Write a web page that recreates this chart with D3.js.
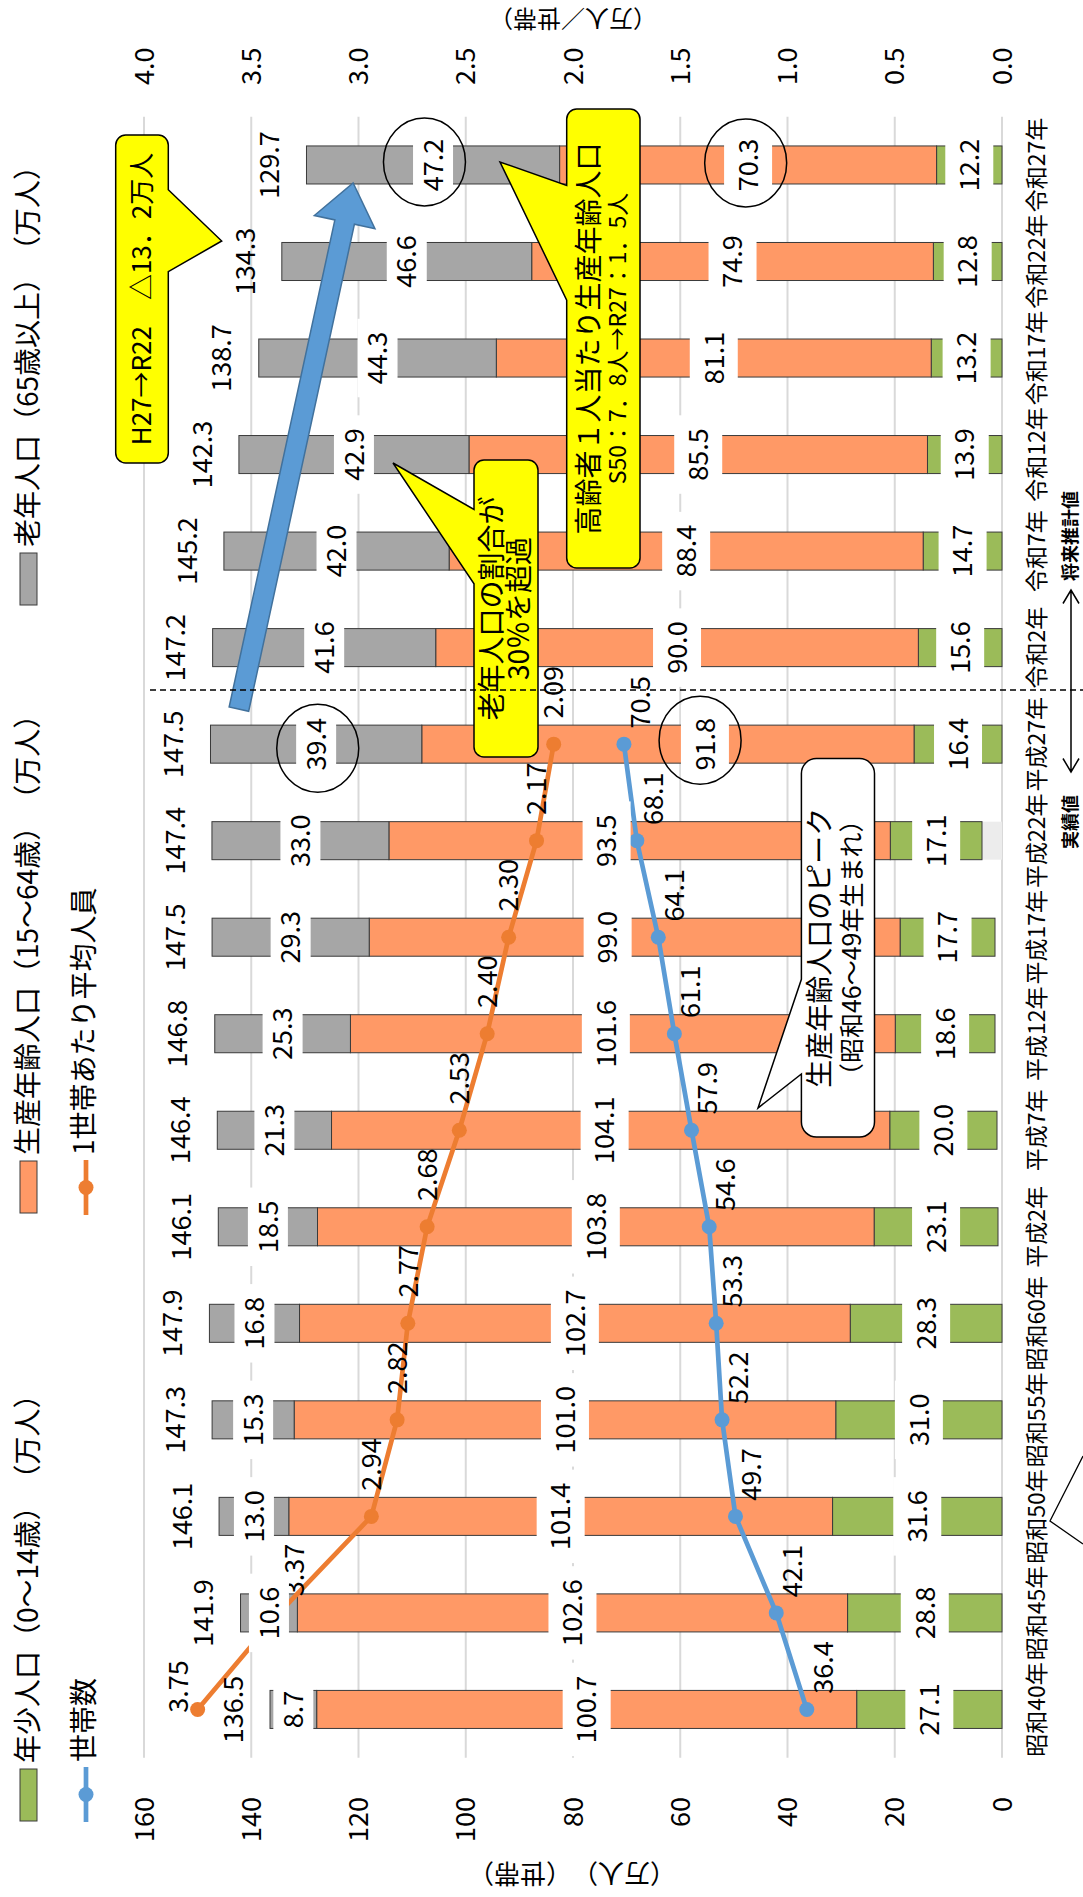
<!DOCTYPE html>
<html>
<head>
<meta charset="utf-8">
<script src="https://cdn.jsdelivr.net/npm/d3@7"></script>
<style>
body { margin: 0; background: #fff; }
svg { display: block; font-family: "Noto Sans CJK JP", "Noto Sans", sans-serif; }
</style>
</head>
<body>
<svg id="chart" width="1083" height="1897"></svg>
<script>
// data
var categories = ["昭和40年","昭和45年","昭和50年","昭和55年","昭和60年","平成2年","平成7年","平成12年","平成17年","平成22年","平成27年","令和2年","令和7年","令和12年","令和17年","令和22年","令和27年"];
var young   = [27.1,28.8,31.6,31.0,28.3,23.1,20.0,18.6,17.7,17.1,16.4,15.6,14.7,13.9,13.2,12.8,12.2];
var working = [100.7,102.6,101.4,101.0,102.7,103.8,104.1,101.6,99.0,93.5,91.8,90.0,88.4,85.5,81.1,74.9,70.3];
var elderly = [8.7,10.6,13.0,15.3,16.8,18.5,21.3,25.3,29.3,33.0,39.4,41.6,42.0,42.9,44.3,46.6,47.2];
var totals  = [136.5,141.9,146.1,147.3,147.9,146.1,146.4,146.8,147.5,147.4,147.5,147.2,145.2,142.3,138.7,134.3,129.7];
var households   = [36.4,42.1,49.7,52.2,53.3,54.6,57.9,61.1,64.1,68.1,70.5];
var perHousehold = [3.75,3.37,2.94,2.82,2.77,2.68,2.53,2.40,2.30,2.17,2.09];
var leftTicks  = [0,20,40,60,80,100,120,140,160];
var rightTicks = [0,0.5,1.0,1.5,2.0,2.5,3.0,3.5,4.0];

// the chart is drawn landscape and turned a quarter to the left
var W = 1897, H = 1083;
var colors = { young: "#9bbb59", working: "#ff9966", elderly: "#a6a6a6" };
// some bars in the source sit a few px off the axis
var barShift = { "平成2年": -4, "平成7年": -5, "平成12年": -7, "平成17年": -7, "平成22年": -20 };
// hand-moved labels of the working-age series (px)
var workNudge = { "平成7年": -6, "平成12年": -17, "平成17年": -27, "平成22年": -33, "平成27年": 37 };

var svg = d3.select("#chart");
var g = svg.append("g").attr("transform", "translate(0," + W + ") rotate(-90)");

var x = d3.scaleBand().domain(categories).range([139.3, 1780.3]).paddingInner(0.606).paddingOuter(0.303);
var y = d3.scaleLinear().domain([0, 160]).range([1002, 144]);
var y2 = d3.scaleLinear().domain([0, 4]).range([1002, 144]);
function cx(c) { return x(c) + x.bandwidth() / 2; }
var f1 = d3.format(".1f"), f2 = d3.format(".2f");

// gridlines
g.selectAll(".grid").data(leftTicks).join("line")
  .attr("x1", 139.3).attr("x2", 1780.3)
  .attr("y1", d => y(d)).attr("y2", d => y(d))
  .attr("stroke", "#d9d9d9").attr("stroke-width", 2);

// stacked bars
var rows = categories.map((c, i) => ({ cat: c, young: young[i], working: working[i], elderly: elderly[i], total: totals[i] }));
var stacked = d3.stack().keys(["young", "working", "elderly"])(rows);
rows.forEach((r, i) => { r.segs = stacked.map(l => ({ key: l.key, v0: l[i][0], v1: l[i][1], val: r[l.key] })); });

rows.forEach(r => {
  var s = barShift[r.cat] || 0;
  if (s < -10) {
    g.append("rect").attr("x", x(r.cat)).attr("width", x.bandwidth())
      .attr("y", y(0) + s).attr("height", -s).attr("fill", "#ececec");
  }
  var bg = g.append("g").attr("transform", "translate(0," + s + ")");
  bg.selectAll("rect").data(r.segs).join("rect")
    .attr("x", x(r.cat)).attr("width", x.bandwidth())
    .attr("y", d => y(d.v1)).attr("height", d => y(d.v0) - y(d.v1))
    .attr("fill", d => colors[d.key]).attr("stroke", "#3a3a3a").attr("stroke-width", 1);
});

// lines
var hhLine = d3.line().x((d, i) => cx(categories[i])).y(d => y(d));
var phLine = d3.line().x((d, i) => cx(categories[i])).y(d => y2(d));
g.append("path").attr("d", phLine(perHousehold)).attr("fill", "none").attr("stroke", "#ed7d31").attr("stroke-width", 4.7);
g.append("path").attr("d", hhLine(households)).attr("fill", "none").attr("stroke", "#5b9bd5").attr("stroke-width", 4.7);
g.selectAll(".phDot").data(perHousehold).join("circle")
  .attr("cx", (d, i) => cx(categories[i])).attr("cy", d => y2(d)).attr("r", 7.5).attr("fill", "#ed7d31");
g.selectAll(".hhDot").data(households).join("circle")
  .attr("cx", (d, i) => cx(categories[i])).attr("cy", d => y(d)).attr("r", 7.5).attr("fill", "#5b9bd5");

// line labels
var phNudge = { 0: [23, -19], 1: [43, 15] };
g.selectAll(".phLab").data(perHousehold).join("text")
  .attr("x", (d, i) => cx(categories[i]) + (phNudge[i] ? phNudge[i][0] : 52))
  .attr("y", (d, i) => y2(d) + (phNudge[i] ? phNudge[i][1] : 0))
  .attr("dy", "0.36em").attr("text-anchor", "middle").attr("font-size", 27)
  .text(d => f2(d));
g.selectAll(".hhLab").data(households).join("text")
  .attr("x", (d, i) => cx(categories[i]) + 42)
  .attr("y", d => y(d) + 16)
  .attr("dy", "0.36em").attr("text-anchor", "middle").attr("font-size", 27)
  .text(d => f1(d));

// segment labels with white boxes, and totals
var boxH = { young: 48, working: 48, elderly: 40 };
rows.forEach(r => {
  var s = barShift[r.cat] || 0;
  var lg = g.append("g").attr("transform", "translate(0," + s + ")");
  r.segs.forEach(sg => {
    var ny = sg.key === "working" ? (workNudge[r.cat] || 0) : 0;
    var t = lg.append("g").attr("transform", "translate(" + cx(r.cat) + "," + ((y(sg.v0) + y(sg.v1)) / 2 + ny) + ")");
    var box = t.append("rect").attr("fill", "#fff");
    var txt = t.append("text").attr("text-anchor", "middle").attr("dy", "0.36em")
      .attr("font-size", 27).text(f1(sg.val));
    var w = txt.node().getComputedTextLength() + 26;
    box.attr("x", -w / 2).attr("width", w).attr("y", -boxH[sg.key] / 2).attr("height", boxH[sg.key]);
  });
  lg.append("text").attr("x", cx(r.cat)).attr("y", y(r.segs[2].v1) - 37)
    .attr("dy", "0.36em").attr("text-anchor", "middle").attr("font-size", 27)
    .text(f1(r.total));
});

// circles round some labels
var rings = [
  { cat: "令和27年", v: 107.7, dx: 3 },
  { cat: "令和27年", v: 47.8, dx: 2 },
  { cat: "平成27年", v: 127.6, dx: -4 },
  { cat: "平成27年", v: 56.3, dx: 4 }
];
g.selectAll(".ring").data(rings).join("ellipse")
  .attr("cx", d => cx(d.cat) + d.dx).attr("cy", d => y(d.v))
  .attr("rx", 44).attr("ry", 41)
  .attr("fill", "none").attr("stroke", "#000").attr("stroke-width", 1.5);

// blue block arrow
function blockArrow(t, p, sw, hl, hw) {
  var dx = p[0] - t[0], dy = p[1] - t[1], len = Math.hypot(dx, dy);
  var ux = dx / len, uy = dy / len, nx = -uy, ny = ux;
  var bx = p[0] - ux * hl, by = p[1] - uy * hl;
  var pts = [
    [t[0] + nx * sw, t[1] + ny * sw], [bx + nx * sw, by + ny * sw], [bx + nx * hw, by + ny * hw],
    p, [bx - nx * hw, by - ny * hw], [bx - nx * sw, by - ny * sw], [t[0] - nx * sw, t[1] - ny * sw]
  ];
  return "M" + pts.map(q => q.join(",")).join("L") + "Z";
}
g.append("path")
  .attr("d", blockArrow([cx("平成27年") + 35, y(142.3)], [cx("令和27年") - 18, y(121)], 10, 40, 31))
  .attr("fill", "#5b9bd5").attr("stroke", "#41719c").attr("stroke-width", 1.5);

// callouts
function callout(b, side, a0, a1, tip, r) {
  var p = "M" + (b.x0 + r) + "," + b.y0;
  if (side === "top") p += "L" + a0 + "," + b.y0 + "L" + tip[0] + "," + tip[1] + "L" + a1 + "," + b.y0;
  p += "L" + (b.x1 - r) + "," + b.y0 + "A" + r + "," + r + " 0 0 1 " + b.x1 + "," + (b.y0 + r);
  p += "L" + b.x1 + "," + (b.y1 - r) + "A" + r + "," + r + " 0 0 1 " + (b.x1 - r) + "," + b.y1;
  if (side === "bottom") p += "L" + a1 + "," + b.y1 + "L" + tip[0] + "," + tip[1] + "L" + a0 + "," + b.y1;
  p += "L" + (b.x0 + r) + "," + b.y1 + "A" + r + "," + r + " 0 0 1 " + b.x0 + "," + (b.y1 - r);
  p += "L" + b.x0 + "," + (b.y0 + r) + "A" + r + "," + r + " 0 0 1 " + (b.x0 + r) + "," + b.y0 + "Z";
  return p;
}
function wedgeBase(b, tipX) {
  var L = b.x1 - b.x0, mid = (b.x0 + b.x1) / 2;
  return tipX > mid ? [b.x0 + L * 7 / 12, b.x0 + L * 10 / 12] : [b.x0 + L * 2 / 12, b.x0 + L * 5 / 12];
}
var notes = [
  { box: { x0: 1434, y0: 115.7, x1: 1762, y1: 168.3 }, side: "bottom", tip: [1656, 221.7], fill: "#ffff00", r: 10,
    lines: [{ t: "H27→R22　△13．2万人", s: 26, dy: 0 }] },
  { box: { x0: 1140, y0: 474, x1: 1437, y1: 538 }, side: "top", tip: [1434, 393], fill: "#ffff00", r: 10,
    lines: [{ t: "老年人口の割合が", s: 28, dy: -14 }, { t: "30％を超過", s: 28, dy: 13 }] },
  { box: { x0: 1329, y0: 566.7, x1: 1788, y1: 640 }, side: "top", tip: [1735, 500], fill: "#ffff00", r: 10,
    lines: [{ t: "高齢者１人当たり生産年齢人口", s: 28, dy: -14.5 }, { t: "S50：7．8人→R27：1．5人", s: 23, dy: 14 }] },
  { box: { x0: 760, y0: 801.4, x1: 1138.4, y1: 874.5 }, side: "top", tip: [789, 758], fill: "#ffffff", r: 15,
    lines: [{ t: "生産年齢人口のピーク", s: 28, dy: -18 }, { t: "（昭和46〜49年生まれ）", s: 25, dy: 14 }] }
];
notes.forEach(n => {
  var ab = wedgeBase(n.box, n.tip[0]);
  g.append("path").attr("d", callout(n.box, n.side, ab[0], ab[1], n.tip, n.r))
    .attr("fill", n.fill).attr("stroke", "#000").attr("stroke-width", 1.5);
  var mx = (n.box.x0 + n.box.x1) / 2, my = (n.box.y0 + n.box.y1) / 2;
  n.lines.forEach(l => {
    g.append("text").attr("x", mx).attr("y", my + l.dy).attr("dy", "0.36em")
      .attr("text-anchor", "middle").attr("font-size", l.s).text(l.t);
  });
});
// wedge of a callout whose box lies outside the picture
g.append("path").attr("d", "M441,1083L376,1050L353,1083").attr("fill", "#fff").attr("stroke", "#000").attr("stroke-width", 1.3);

// dashed split between actual and projected values
var splitX = (x("平成27年") + x.bandwidth() + x("令和2年")) / 2 + 6;
g.append("line").attr("x1", splitX).attr("x2", splitX).attr("y1", 150).attr("y2", H)
  .attr("stroke", "#000").attr("stroke-width", 1.5).attr("stroke-dasharray", "6,4");
g.append("text").attr("x", 1075).attr("y", 1071).attr("dy", "0.36em").attr("text-anchor", "middle")
  .attr("font-size", 18).attr("font-weight", "bold").text("実績値");
g.append("text").attr("x", 1361).attr("y", 1071).attr("dy", "0.36em").attr("text-anchor", "middle")
  .attr("font-size", 18).attr("font-weight", "bold").text("将来推計値");
g.append("path").attr("d", "M1125,1071L1307,1071M1138.5,1063L1125,1071L1138.5,1079M1293.5,1063L1307,1071L1293.5,1079")
  .attr("fill", "none").attr("stroke", "#000").attr("stroke-width", 1.5);

// axes
g.selectAll(".lt").data(leftTicks).join("text")
  .attr("x", 100).attr("y", d => y(d)).attr("dy", "0.36em").attr("text-anchor", "end")
  .attr("font-size", 27).text(d => d);
g.selectAll(".rt").data(rightTicks).join("text")
  .attr("x", 1812).attr("y", d => y2(d)).attr("dy", "0.36em").attr("text-anchor", "start")
  .attr("font-size", 27).text(d => d3.format(".1f")(d));
g.selectAll(".cat").data(categories).join("text")
  .attr("x", d => cx(d)).attr("y", 1037).attr("dy", "0.36em").attr("text-anchor", "middle")
  .attr("font-size", 23).text(d => d);
g.append("text").attr("transform", "translate(24,572) rotate(-90)").attr("dy", "0.36em")
  .attr("text-anchor", "middle").attr("font-size", 26).text("（万人）　（世帯）");
g.append("text").attr("transform", "translate(1878,573) rotate(-90)").attr("dy", "0.36em")
  .attr("text-anchor", "middle").attr("font-size", 24).text("（万人／世帯）");

// legend
var legendBars = [
  { key: "young", label: "年少人口（0〜14歳）　（万人）", x: 76 },
  { key: "working", label: "生産年齢人口（15〜64歳）　（万人）", x: 684 },
  { key: "elderly", label: "老年人口（65歳以上）　（万人）", x: 1292 }
];
legendBars.forEach(l => {
  g.append("rect").attr("x", l.x).attr("y", 20).attr("width", 52).attr("height", 17)
    .attr("fill", colors[l.key]).attr("stroke", "#3a3a3a").attr("stroke-width", 1);
  g.append("text").attr("x", l.x + 58).attr("y", 28).attr("dy", "0.36em").attr("font-size", 28).text(l.label);
});
var legendLines = [
  { color: "#5b9bd5", label: "世帯数", x: 75 },
  { color: "#ed7d31", label: "1世帯あたり平均人員", x: 682 }
];
legendLines.forEach(l => {
  g.append("line").attr("x1", l.x).attr("x2", l.x + 55).attr("y1", 86).attr("y2", 86)
    .attr("stroke", l.color).attr("stroke-width", 4.7);
  g.append("circle").attr("cx", l.x + 27.5).attr("cy", 86).attr("r", 7.5).attr("fill", l.color);
  g.append("text").attr("x", l.x + 60).attr("y", 84).attr("dy", "0.36em").attr("font-size", 28).text(l.label);
});
</script>
</body>
</html>
